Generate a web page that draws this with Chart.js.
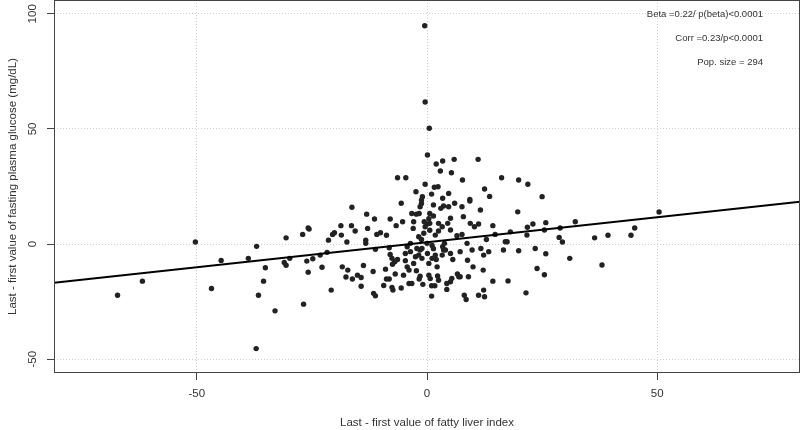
<!DOCTYPE html>
<html>
<head>
<meta charset="utf-8">
<script src="https://cdn.jsdelivr.net/npm/chart.js@4/dist/chart.umd.min.js"></script>
<style>
html,body{margin:0;padding:0;background:#fff;}
#wrap{width:800px;height:430px;position:relative;}
</style>
</head>
<body>
<div id="wrap"><canvas id="c" width="800" height="430"></canvas></div>
<script>
// ---- data ----
const xTicks = [-50, 0, 50];
const yTicks = [-50, 0, 50, 100];
const xRange = [-81, 81];
const yRange = [-56, 106];

const xVals = [
-67.2,-61.8,-50.3,-46.8,-44.7,-38.8,-37.0,-35.1,-35.5,-36.6,-37.1,
-33.0,-26.8,-30.6,-31.0,-30.6,-29.8,-27.0,-25.8,-25.6,-26.1,-25.8,-24.8,-23.2,-22.8,-21.7,-20.8,-21.4,-20.5,-20.1,
-18.7,-18.6,-17.4,-18.4,-17.2,-17.6,-16.2,-16.3,-16.4,-15.6,-15.1,-14.3,-14.3,-13.8,-13.1,-13.3,-12.9,-13.3,
-11.7,-11.6,-11.2,-11.4,-11.2,-10.9,-10.1,-8.8,-8.0,-9.0,-8.8,-8.2,-9.4,-7.6,-7.4,-8.2,-8.0,-7.6,-7.0,-7.5,-6.4,
-6.7,-6.9,-5.6,-5.6,-5.3,-5.1,-4.3,-4.7,-4.7,-4.3,-3.9,-3.3,-3.6,-3.6,-3.3,-2.3,-2.9,-3.0,-2.9,-2.5,-2.3,-2.2,
-1.7,-1.5,-1.2,-1.2,-1.1,-0.9,-0.7,-0.6,-0.4,0.0,0.6,0.1,0.4,0.4,1.0,1.0,1.7,1.1,1.4,1.4,1.8,2.0,2.2,2.3,2.5,
3.0,3.4,3.8,3.6,4.0,4.3,4.5,4.7,5.1,5.1,5.1,5.4,5.1,5.6,6.0,6.5,6.6,6.9,7.2,7.2,7.6,7.6,7.9,8.1,8.5,8.7,8.8,
9.0,9.3,9.4,9.8,10.0,10.3,11.2,11.2,11.6,11.7,12.2,12.3,12.5,12.3,12.9,13.4,14.3,14.3,14.8,16.6,17.0,17.4,
17.6,18.1,19.7,19.9,21.5,21.7,21.8,23.0,23.5,23.9,
-0.5,-0.4,0.5,0.1,2.0,3.4,5.9,11.1,2.9,5.3,-6.4,-4.6,7.7,16.2,19.9,21.9,-0.4,1.6,2.4,-2.4,-1.0,1.0,4.7,12.5,
13.6,3.4,9.3,25.0,
25.8,25.5,28.7,29.4,28.9,32.2,25.8,25.5,31.0,36.4,39.3,38.0,44.3,45.1,50.4,
-1.2,-1.7,0.6,0.4,0.6,2.5,3.3,1.8,-1.8,0.0,-1.5,-1.8,-1.1,1.4,1.1,3.6,3.3,-3.9,-1.5,0.7,2.5,4.3
];
const yVals = [
-22.2,-16.1,0.9,-19.3,-7.1,-6.2,-1.0,-10.3,-16.1,-22.2,-45.4,
-29.0,-26.1,2.7,-8.0,-9.2,-6.2,4.2,7.0,6.5,-7.4,-12.2,-6.4,-4.8,-10.1,-3.6,-20.0,1.7,4.2,4.9,
8.0,3.9,0.9,-9.9,-11.3,-14.3,-15.2,16.0,8.0,5.7,-13.5,-14.5,-18.3,-9.3,13.0,1.7,6.8,0.3,
-11.9,-21.4,-22.5,10.9,-2.3,4.2,4.9,3.8,10.9,-10.9,-15.2,-15.2,-18.0,-18.8,-20.0,-1.6,-4.5,-6.2,-7.7,-8.8,-6.7,
8.0,-13.0,-19.1,17.7,9.7,-13.5,-1.2,-4.1,-7.2,-9.9,-17.1,-17.1,0.3,-3.3,13.3,13.0,9.7,6.8,-8.4,-5.5,-11.6,-1.9,
-15.2,16.2,19.1,2.0,-1.9,-17.5,4.7,9.7,7.5,8.7,9.0,-4.1,-8.4,-13.5,-22.6,-18.1,-18.1,-0.6,17.0,12.2,-4.8,-6.7,-9.9,-13.9,5.7,
15.5,-1.2,0.3,16.5,-2.6,-19.7,9.0,16.2,11.2,-4.1,-16.4,-14.9,6.1,-6.7,17.7,3.6,-13.0,-14.2,-14.2,-3.3,16.2,4.2,11.9,-22.2,-24.1,0.3,-7.0,
-14.2,18.7,9.0,-2.6,-9.9,7.5,-22.2,8.7,14.8,-1.9,-11.3,-20.0,-22.9,-4.8,2.0,-3.3,8.0,-16.1,4.2,-2.6,1.0,1.0,
-16.0,5.3,14.0,-2.9,-21.2,3.9,7.3,8.7,-1.9,-10.6,
94.8,61.7,50.3,38.7,34.8,36.1,36.8,36.8,31.7,31.0,28.8,28.8,27.8,28.8,27.8,26.0,26.0,24.7,24.9,22.7,20.6,21.7,22.0,23.9,
20.7,19.9,19.4,20.6,
9.3,6.1,2.9,0.9,7.0,9.7,-4.2,-13.3,-6.2,2.7,3.8,-9.1,3.8,7.0,13.9,
17.6,13.3,13.3,11.0,6.0,9.0,7.5,3.9,3.2,0.3,-2.6,-4.8,-6.2,-2.0,-6.2,-2.6,-4.8,-11.3,-14.0,-15.0,-15.7,-17.1
];
// fitted regression line end points
const fitX = [-81, 81];
const fitY = [-16.8, 18.4];

const statLines = ['Beta =0.22/ p(beta)<0.0001', 'Corr =0.23/p<0.0001', 'Pop. size = 294'];
const xTitle = 'Last - first value of fatty liver index';
const yTitle = 'Last - first value of fasting plasma glucose (mg/dL)';

// ---- chart ----
const FONT = '"Liberation Sans", Arial, sans-serif';
const TXT = '#333';
const points = xVals.map((x, i) => ({x: x, y: yVals[i]}));
const fit = fitX.map((x, i) => ({x: x, y: fitY[i]}));

const decor = {
  id: 'decor',
  afterDraw(chart) {
    const ctx = chart.ctx, a = chart.chartArea;
    const ys = chart.scales.y;
    ctx.save();
    // box
    ctx.strokeStyle = '#444';
    ctx.lineWidth = 1;
    ctx.strokeRect(a.left + 0.5, a.top + 0.5, a.right - a.left - 1, a.bottom - a.top - 1);
    // rotated y tick labels
    ctx.fillStyle = TXT;
    ctx.font = '11.5px ' + FONT;
    ctx.textAlign = 'center';
    ctx.textBaseline = 'middle';
    yTicks.forEach(v => {
      const py = ys.getPixelForValue(v);
      ctx.save();
      ctx.translate(33, py);
      ctx.rotate(-Math.PI / 2);
      ctx.fillText(String(v), 0, 0);
      ctx.restore();
    });
    // stats text
    ctx.font = '9.5px ' + FONT;
    ctx.textAlign = 'right';
    const ty = [14.3, 38.3, 62.7];
    statLines.forEach((s, i) => ctx.fillText(s, 763, ty[i]));
    ctx.restore();
  }
};

new Chart(document.getElementById('c'), {
  type: 'scatter',
  data: {
    datasets: [
      {
        type: 'line',
        data: fit,
        borderColor: '#000',
        borderWidth: 2,
        pointRadius: 0,
        fill: false,
        tension: 0,
        order: 0
      },
      {
        data: points,
        backgroundColor: '#222',
        borderColor: '#222',
        borderWidth: 0,
        pointRadius: 2.7,
        pointHoverRadius: 2.7,
        order: 1
      }
    ]
  },
  options: {
    responsive: false,
    animation: false,
    events: [],
    layout: {autoPadding: false, padding: {top: 0, right: 0, left: 0, bottom: 0}},
    plugins: {legend: {display: false}, tooltip: {enabled: false}},
    scales: {
      x: {
        type: 'linear',
        min: xRange[0], max: xRange[1],
        afterBuildTicks: s => { s.ticks = xTicks.map(v => ({value: v})); },
        afterFit: s => { s.height = 57; },
        grid: {color: '#cfcfcf', lineWidth: 1, tickColor: '#444', tickLength: 7, tickBorderDash: [], tickWidth: 1},
        border: {display: false, dash: [1, 2]},
        ticks: {font: {family: FONT, size: 11.5}, color: TXT, padding: 7, maxRotation: 0, callback: v => String(v)},
        title: {display: true, text: xTitle, font: {family: FONT, size: 11.5}, color: TXT, padding: {top: 0, bottom: 0}}
      },
      y: {
        type: 'linear',
        min: yRange[0], max: yRange[1],
        afterBuildTicks: s => { s.ticks = yTicks.map(v => ({value: v})); },
        afterFit: s => { s.width = 54; },
        grid: {color: '#cfcfcf', lineWidth: 1, tickColor: '#444', tickLength: 7, tickBorderDash: [], tickWidth: 1},
        border: {display: false, dash: [1, 2]},
        ticks: {display: false},
        title: {display: true, text: yTitle, font: {family: FONT, size: 11.5}, color: TXT, padding: {top: 6, bottom: 0}}
      }
    }
  },
  plugins: [decor]
});
</script>
</body>
</html>
